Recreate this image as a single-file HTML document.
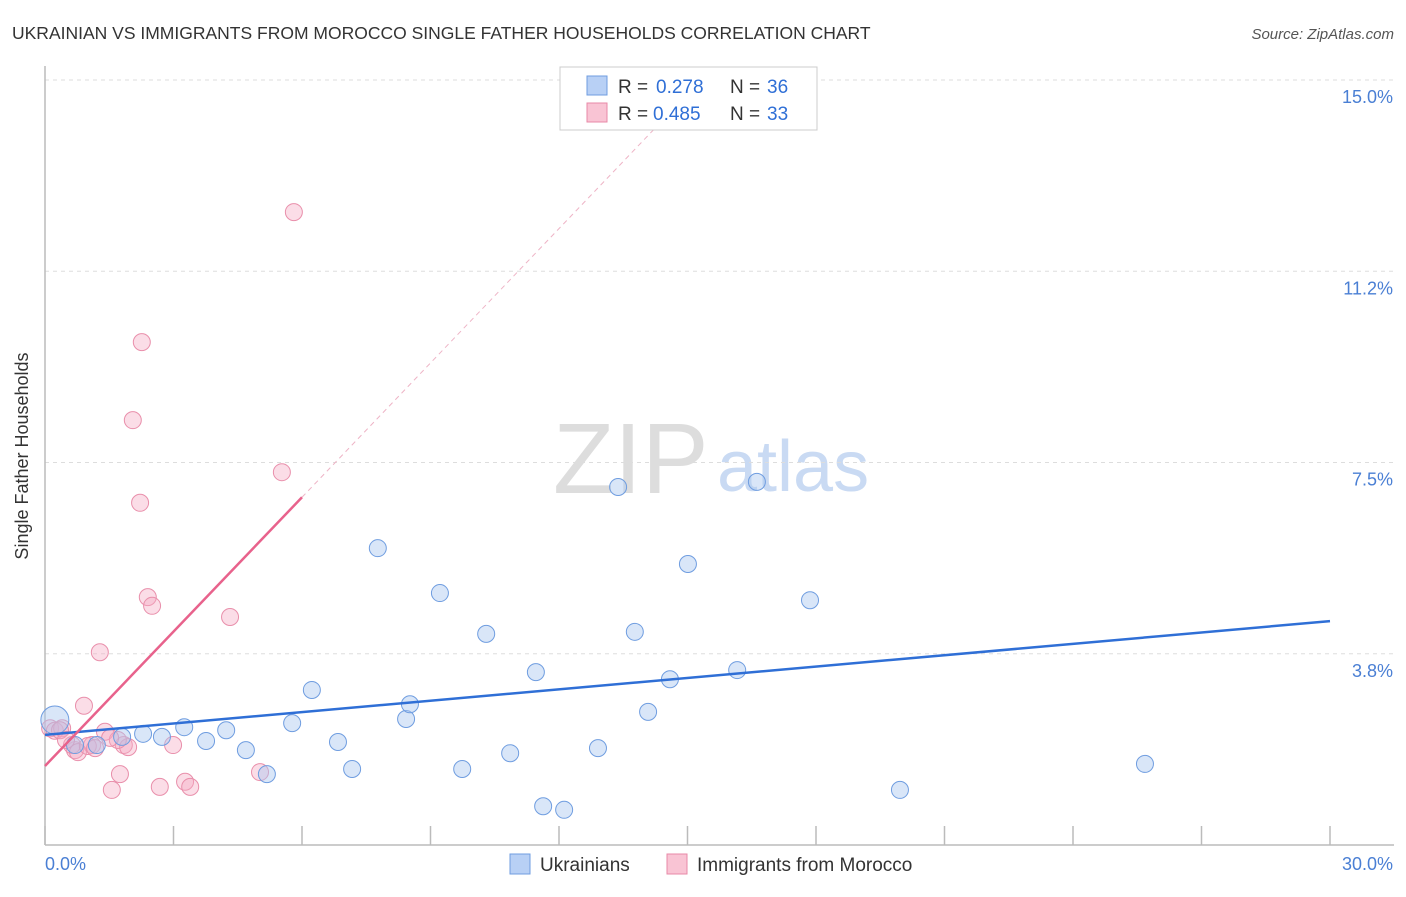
<!DOCTYPE html>
<html><head><meta charset="utf-8"><style>
body{margin:0;background:#fff;font-family:"Liberation Sans",sans-serif;}
svg text{font-family:"Liberation Sans",sans-serif;}
</style></head><body>
<svg width="1406" height="892" viewBox="0 0 1406 892">
<text x="12" y="39" font-size="17.5" fill="#333">UKRAINIAN VS IMMIGRANTS FROM MOROCCO SINGLE FATHER HOUSEHOLDS CORRELATION CHART</text>
<text x="1394" y="39" font-size="15" fill="#555" font-style="italic" text-anchor="end">Source: ZipAtlas.com</text>
<g>
<text x="553" y="493" font-size="100" fill="#ddd" font-family="Liberation Serif,serif">ZIP</text>
<text x="717" y="491" font-size="72" fill="#c9daf3">atlas</text>
</g>
<g id="grid"></g>
<g id="axes"></g>
<g id="pts"></g>
<g id="lines"></g>
<text x="28" y="456" font-size="18" fill="#333" transform="rotate(-90 28 456)" text-anchor="middle">Single Father Households</text>
<g>
<rect x="560" y="67" width="257" height="63" fill="#fff" stroke="#ccc"/>
<rect x="587" y="76" width="20" height="19" fill="#b8d0f5" stroke="#6f9de0"/>
<text x="618" y="93" font-size="19" fill="#333">R =</text>
<text x="656" y="93" font-size="19" fill="#2f6fd6">0.278</text>
<text x="730" y="93" font-size="19" fill="#333">N =</text>
<text x="767" y="93" font-size="19" fill="#2f6fd6">36</text>
<rect x="587" y="103" width="20" height="19" fill="#f9c4d4" stroke="#e889a7"/>
<text x="618" y="120" font-size="19" fill="#333">R =</text>
<text x="653" y="120" font-size="19" fill="#2f6fd6">0.485</text>
<text x="730" y="120" font-size="19" fill="#333">N =</text>
<text x="767" y="120" font-size="19" fill="#2f6fd6">33</text>
</g>
<g>
<rect x="510" y="854" width="20" height="20" fill="#b8d0f5" stroke="#6f9de0"/>
<text x="540" y="871" font-size="19" fill="#333">Ukrainians</text>
<rect x="667" y="854" width="20" height="20" fill="#f9c4d4" stroke="#e889a7"/>
<text x="697" y="871" font-size="19" fill="#333">Immigrants from Morocco</text>
</g>
</svg>
<script>
const yTicks=[3.75,7.5,11.25,15];
const yTickLabels=["3.8%","7.5%","11.2%","15.0%"];
const xTicks=[0,3,6,9,12,15,18,21,24,27,30];
const blueX=[0.23,0.70,1.21,1.80,2.29,2.73,3.25,3.76,4.23,4.69,5.18,5.77,6.23,6.84,7.17,7.77,8.43,8.52,9.22,9.74,10.30,10.86,11.46,11.63,12.12,12.91,13.38,13.77,14.08,14.59,15.01,16.16,16.62,17.86,19.96,25.68];
const blueY=[2.45,1.96,1.96,2.12,2.18,2.12,2.31,2.04,2.25,1.86,1.39,2.39,3.04,2.02,1.49,5.82,2.47,2.76,4.94,1.49,4.14,1.80,3.39,0.76,0.69,1.90,7.02,4.18,2.61,3.25,5.51,3.43,7.12,4.80,1.08,1.59];
const pinkX=[0.12,0.23,0.40,0.70,0.91,1.10,1.28,1.40,1.56,1.75,1.84,1.94,2.05,2.22,2.26,2.40,2.50,2.68,2.99,3.27,3.39,4.32,5.02,5.53,5.81,0.63,0.77,0.35,1.00,1.17,1.70,0.49,1.52];
const pinkY=[2.29,2.24,2.29,1.86,2.73,1.96,3.78,2.22,1.08,1.39,1.96,1.92,8.33,6.71,9.86,4.86,4.69,1.14,1.96,1.24,1.14,4.47,1.43,7.31,12.41,1.96,1.82,2.25,1.94,1.90,2.06,2.06,2.10];
const blueTrend=[2.16,4.39];
const pinkTrend=[1.55,0.878];
const NS="http://www.w3.org/2000/svg";
const X=v=>45+v/30*1285, Y=v=>845-v/15*765;
function mk(p,t,a){const e=document.createElementNS(NS,t);for(const k in a)e.setAttribute(k,a[k]);p.appendChild(e);return e;}
const g=document.getElementById('grid');
yTicks.forEach((t,i)=>{
 const l=mk(g,'line',{x1:45,x2:1394,y1:Y(t),y2:Y(t),stroke:'#ddd','stroke-dasharray':'4 4'});
 
 
 const tx=mk(g,'text',{x:1393,y:Y(t)+23,'font-size':18,fill:'#4a7fd4','text-anchor':'end'});
 tx.textContent=yTickLabels[i];
 
 
});
const ax=document.getElementById('axes');
const yl=mk(ax,'line',{x1:45,x2:45,y1:66,y2:845,stroke:'#bbb','stroke-width':1.5});


const xl=mk(ax,'line',{x1:45,x2:1394,y1:845,y2:845,stroke:'#bbb','stroke-width':1.5});


xTicks.forEach(t=>{
 const l=mk(ax,'line',{x1:X(t),x2:X(t),y1:826,y2:845,stroke:'#bbb','stroke-width':1.5});
 
 
});
const x0=mk(ax,'text',{x:45,y:870,'font-size':18,fill:'#4a7fd4'});x0.textContent='0.0%';


const x1=mk(ax,'text',{x:1393,y:870,'font-size':18,fill:'#4a7fd4','text-anchor':'end'});x1.textContent='30.0%';


const pg=document.getElementById('pts');
pinkX.forEach((x,i)=>{
 const c=mk(pg,'circle',{cx:X(x),cy:Y(pinkY[i]),r:8.5,fill:'rgba(246,170,195,0.4)',stroke:'#e98fab','stroke-width':1});
 
 
});
blueX.forEach((x,i)=>{
 const c=mk(pg,'circle',{cx:X(x),cy:Y(blueY[i]),r:i===0?14:8.5,fill:'rgba(170,200,240,0.45)',stroke:'#6f9de0','stroke-width':1});
 
 
});
const lg=document.getElementById('lines');
const bl=mk(lg,'line',{x1:X(0),y1:Y(blueTrend[0]),x2:X(30),y2:Y(blueTrend[1]),stroke:'#2f6fd6','stroke-width':2.5});


const pf=x=>pinkTrend[0]+pinkTrend[1]*x;
const pl=mk(lg,'line',{x1:X(0),y1:Y(pf(0)),x2:X(6),y2:Y(pf(6)),stroke:'#e8628c','stroke-width':2.5});


const pd=mk(lg,'line',{x1:X(6),y1:Y(pf(6)),x2:X(14.2),y2:Y(pf(14.2)),stroke:'#eeb4c6','stroke-width':1,'stroke-dasharray':'5 4'});


</script>
</body></html>
